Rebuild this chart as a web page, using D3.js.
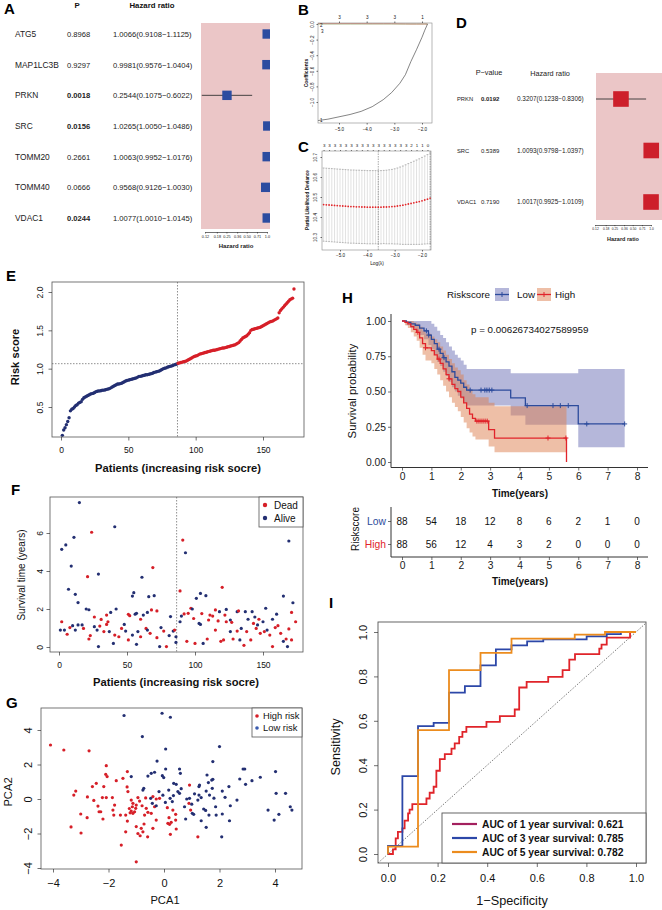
<!DOCTYPE html>
<html><head><meta charset="utf-8">
<script src="https://cdn.jsdelivr.net/npm/d3@7/dist/d3.min.js"></script>
<style>html,body{margin:0;padding:0;background:#fff}svg{display:block}</style>
</head><body>
<svg id="fig" width="662" height="910" xmlns="http://www.w3.org/2000/svg"></svg>
<script>
const FONT = "Arial, 'Liberation Sans', Helvetica, sans-serif";
// ---------------- DATA ----------------
// Panel A (univariate Cox)
const aGenes = ["ATG5","MAP1LC3B","PRKN","SRC","TOMM20","TOMM40","VDAC1"];
const aP = ["0.8968","0.9297","0.0018","0.0156","0.2661","0.0666","0.0244"];
const aHR = [1.0066,0.9981,0.2544,1.0265,1.0063,0.9568,1.0077];
const aLo = [0.9108,0.9576,0.1075,1.0050,0.9952,0.9126,1.0010];
const aHi = [1.1125,1.0404,0.6022,1.0486,1.0176,1.0030,1.0145];
const hrTicks = [0.12,0.18,0.25,0.36,0.50,0.71,1.0];
const hrTickLabels = ["0.12","0.18","0.25","0.36","0.50","0.71","1.0"];
// Panel B (LASSO coefficient paths)
const bLambda = [-5.8,-5.4,-5.0,-4.6,-4.2,-3.8,-3.4,-3.1,-2.8,-2.6,-2.4,-2.2,-2.0,-1.9,-1.8];
const bCoefPRKN = [-1.24,-1.22,-1.19,-1.16,-1.12,-1.06,-0.97,-0.88,-0.76,-0.65,-0.48,-0.33,-0.17,-0.08,0];
const bCoefSRC = [0.004,0.004,0.004,0.004,0.004,0.003,0.003,0.003,0.002,0.001,0,0,0,0,0];
const bCoefVDAC1 = [0.001,0.001,0.001,0.001,0.001,0.001,0.001,0.001,0,0,0,0,0,0,0];
const bTopTicks = [-5,-4,-3,-2];
const bTopLabels = ["3","3","3","1"];
// Panel C (cross-validation)
const cLambda = [-5.6,-5.5,-5.4,-5.3,-5.2,-5.1,-5.0,-4.9,-4.8,-4.7,-4.6,-4.5,-4.4,-4.3,-4.2,-4.1,-4.0,-3.9,-3.8,-3.7,-3.6,-3.5,-3.4,-3.3,-3.2,-3.1,-3.0,-2.9,-2.8,-2.7,-2.6,-2.5,-2.4,-2.3,-2.2,-2.1,-2.0,-1.9,-1.8,-1.7];
const cMean = [10.462,10.461,10.460,10.459,10.458,10.457,10.456,10.455,10.454,10.453,10.452,10.452,10.451,10.451,10.450,10.450,10.449,10.449,10.449,10.449,10.449,10.449,10.450,10.450,10.451,10.452,10.453,10.455,10.457,10.459,10.462,10.465,10.468,10.471,10.474,10.477,10.481,10.485,10.489,10.494];
const cUpper = [10.645,10.644,10.643,10.642,10.641,10.640,10.639,10.638,10.637,10.636,10.635,10.635,10.634,10.634,10.633,10.633,10.632,10.632,10.632,10.632,10.632,10.632,10.633,10.634,10.636,10.638,10.641,10.645,10.650,10.655,10.661,10.667,10.673,10.679,10.685,10.691,10.698,10.705,10.712,10.720];
const cLower = [10.279,10.278,10.277,10.276,10.275,10.274,10.273,10.272,10.271,10.270,10.269,10.269,10.268,10.268,10.267,10.267,10.266,10.266,10.266,10.266,10.266,10.266,10.267,10.266,10.266,10.266,10.265,10.265,10.264,10.263,10.263,10.263,10.263,10.263,10.263,10.263,10.264,10.265,10.266,10.268];
const cTopLambda = [-5.6,-5.4,-5.2,-5.0,-4.8,-4.6,-4.4,-4.2,-4.0,-3.8,-3.6,-3.4,-3.2,-3.0,-2.8,-2.6,-2.4,-2.2,-2.0,-1.8];
const cTopLabels = ["3","3","3","3","3","3","3","3","3","3","3","3","3","3","3","3","2","1","1","0"];
const cVlines = [-3.6,-1.7];
// Panel D (multivariate Cox)
const dGenes = ["PRKN","SRC","VDAC1"];
const dP = ["0.0192","0.5389","0.7190"];
const dHR = [0.3207,1.0093,1.0017];
const dLo = [0.1238,0.9798,0.9925];
const dHi = [0.8306,1.0397,1.0109];
// Panel E (risk score, sorted)
const eRisk = [0.13,0.2,0.23,0.27,0.31,0.36,0.45,0.47,0.48,0.5,
0.52,0.53,0.55,0.56,0.57,0.6,0.62,0.63,0.64,0.65,
0.66,0.67,0.675,0.68,0.69,0.7,0.705,0.71,0.71,0.715,
0.72,0.72,0.725,0.73,0.735,0.74,0.75,0.76,0.77,0.78,
0.79,0.8,0.8,0.805,0.81,0.82,0.83,0.84,0.845,0.85,
0.855,0.86,0.865,0.87,0.875,0.88,0.89,0.9,0.9,0.905,
0.91,0.915,0.92,0.92,0.925,0.93,0.935,0.94,0.95,0.955,
0.96,0.965,0.97,0.98,0.99,1.0,1.005,1.01,1.02,1.025,
1.03,1.035,1.04,1.05,1.055,1.06,
1.07,1.075,1.08,1.085,1.09,1.095,1.1,1.11,1.12,1.13,
1.14,1.15,1.16,1.165,1.17,1.18,1.19,1.195,1.2,1.205,
1.21,1.215,1.22,1.225,1.23,1.235,1.24,1.24,1.245,1.25,
1.255,1.26,1.265,1.27,1.27,1.275,1.28,1.285,1.29,1.295,
1.3,1.305,1.31,1.32,1.33,1.34,1.36,1.38,1.4,1.41,
1.42,1.43,1.45,1.47,1.5,1.51,1.515,1.52,1.525,1.53,
1.535,1.54,1.55,1.56,1.57,1.58,1.59,1.6,1.61,1.615,
1.62,1.63,1.64,1.65,1.66,1.73,1.76,1.78,1.8,1.82,
1.84,1.86,1.88,1.9,1.91,1.92,2.04];
const eNLow = 86;
const eCutoff = 1.065;
const eCutIndex = 86.5;
// Panel F (survival status)
const fPatient = [2,5,7,9,11,12,14,15,20,22,21,24,29,26,31,35,38,41,42,51,52,54,55,56,57,60,61,62,65,66,68,69,70,72,
89,91,90,93,92,95,97,98,99,101,104,105,108,110,111,113,115,118,120,122,123,126,131,132,137,139,142,144,147,152,157,160,165,169,171,172,
1,2,4,6,8,10,12,14,17,18,22,23,26,28,29,30,33,35,36,37,40,41,44,46,48,49,51,54,57,58,60,64,65,67,72,74,75,77,79,81,82,84,85,86,86,
89,94,100,103,104,106,109,115,117,119,121,123,126,127,128,131,133,134,136,138,141,143,145,146,148,150,151,153,155,157,159,161,163,165,167,168,169,171,174];
const fTime = [5.14,5.37,3.04,4.26,5.77,2.77,2.34,7.6,2.0,1.96,3.7,6.04,3.84,1.58,1.45,1.68,1.82,6.33,2.0,1.72,1.65,2.68,2.86,1.73,1.77,1.46,3.67,1.68,1.82,2.65,1.95,4.18,2.7,1.9,
2.95,5.63,1.63,4.96,1.74,1.77,2.04,2.0,1.5,2.56,2.82,1.76,2.7,1.42,1.68,1.63,1.95,1.86,3.14,1.68,1.98,1.42,1.86,1.9,1.86,1.46,1.86,1.58,1.46,2.04,1.46,1.73,2.68,5.58,1.82,2.33,
0.89,1.33,0.89,0.67,1.02,1.12,0.89,1.16,1.16,0.98,0.42,0.6,1.07,0.89,0.02,1.1,0.81,1.19,1.33,0.81,0.19,0.63,0.54,0.98,1.19,0.84,0.37,0.63,0.14,0.81,0.54,0.98,0.89,0.72,0.49,0.02,1.02,0.84,0.02,0.6,1.6,0.84,0.89,0.54,0.24,
1.33,0.3,0.19,1.24,1.19,0.19,0.42,0.89,1.37,0.3,0.37,1.33,0.81,1.3,0.42,0.84,0.37,0.98,0.09,0.81,0.37,1.24,0.98,1.16,0.72,1.33,0.81,0.89,0.63,0.02,1.02,1.12,0.72,0.3,0.42,0.02,0.95,0.37,1.33];
const fStatus = [0,0,0,0,0,0,0,0,0,0,1,1,0,1,1,1,0,0,0,1,1,0,0,0,0,1,0,0,0,0,1,1,0,1,
1,1,0,0,1,1,1,0,1,0,0,1,0,1,1,1,1,0,1,1,0,0,0,1,0,0,0,0,1,0,0,0,0,0,1,0,
0,1,0,1,1,0,0,0,0,1,1,1,0,0,0,1,1,1,1,0,0,1,1,1,0,0,1,0,0,0,1,1,0,1,1,0,0,1,1,0,0,0,1,0,0,
0,1,1,0,0,0,1,1,1,1,1,1,0,1,1,1,0,0,1,1,1,1,1,0,1,0,1,0,1,1,1,1,1,0,1,0,1,1,1];
const fTicks = [0,2,4,6];
// Panel G (PCA)
const gHighX = [-4.09,-3.61,-2.70,-2.08,-2.10,-2.05,-1.32,-1.72,-1.48,-2.44,-2.58,-2.17,-3.18,-3.25,-1.33,-1.30,-2.22,-2.08,-1.86,-2.53,-1.78,-2.38,-2.34,-2.28,-1.84,-3.00,-2.77,-2.20,-1.81,-1.57,-1.38,-3.35,-2.99,-1.38,-1.54,-1.00,
-1.18,-1.12,-1.14,-1.18,-1.06,-1.12,-1.00,-1.02,-0.94,-0.88,-1.22,-1.25,
-0.79,-0.64,-0.58,-0.70,-1.00,-0.82,-0.76,-0.94,-0.86,-0.59,-0.40,-0.28,-0.34,-0.16,-0.46,0.14,0.20,0.26,0.18,0.32,0.42,0.44,0.23,0.90,0.96,0.92,1.22,-0.40,-0.28,0.12,0.42,-1.32,-0.72,-2.76,-0.66];
const gHighY = [3.13,2.84,2.79,1.93,1.43,1.30,1.59,1.06,1.20,0.91,0.72,0.72,0.46,0.23,0.70,0.43,0.08,0.08,0.08,-0.08,-0.35,-0.41,-0.74,-0.74,-0.64,-0.87,-1.08,-1.16,-0.93,-0.93,-0.93,-1.62,-1.97,-1.90,-2.67,-3.64,
-0.06,-0.25,-0.45,-0.70,-0.74,-0.83,-0.35,-0.54,0.08,-0.12,-0.80,-0.55,
-0.39,-0.54,-0.77,-0.93,-1.60,-1.70,-1.90,-2.00,-2.13,-2.19,-1.70,-1.22,-0.45,0.04,-0.83,-1.41,-1.47,-1.35,-1.08,-0.64,-0.89,-1.74,-2.05,-0.25,-0.64,0.81,-2.19,0.14,0.00,-0.50,-1.22,-1.28,-1.45,0.12,0.06];
const gLowX = [-1.44,-0.07,0.23,-0.78,0.06,2.00,-0.25,1.76,0.06,0.56,-1.18,-0.46,-0.34,-0.58,-0.06,-0.01,0.59,1.55,1.76,1.72,2.85,2.91,2.73,3.17,3.47,4.02,2.94,2.34,1.74,1.28,1.26,0.35,0.44,-0.73,-0.76,0.17,-0.18,0.50,0.56,4.04,4.38,2.10,1.52,1.64,1.26,1.34,2.63,-0.48,0.92,1.22,-0.42,-0.28,0.74,1.43,1.50,1.86,2.39,3.75,4.55,4.61,4.14,3.97,0.78,1.02,1.07,1.62,1.88,2.10,1.34,2.36,1.52,2.08,
-0.04,0.22,0.05,0.34,0.62,0.82,1.10,1.80,0.30,1.60,2.20,1.00];
const gLowY = [4.84,4.97,4.74,3.62,2.90,3.04,2.20,2.17,1.74,1.74,1.30,1.49,1.55,1.33,1.35,1.24,1.49,1.39,1.14,1.10,1.74,1.74,1.16,1.06,1.26,1.59,0.85,0.72,0.62,0.81,0.72,0.91,0.85,0.62,0.52,0.52,0.43,0.43,0.33,0.33,0.33,0.46,0.46,0.23,0.23,0.08,-0.06,0.04,0.04,-0.06,-0.25,-0.39,-0.45,-0.58,-0.66,-0.45,-0.39,-0.64,-0.45,-0.64,-0.89,-1.22,-1.16,-0.83,-0.89,-0.93,-0.93,-0.87,-1.26,-1.26,-1.64,-2.19,
0.22,0.04,-0.20,0.20,0.60,0.00,0.30,0.05,-0.15,0.95,0.10,-0.30];
// Panel H (Kaplan-Meier)
const kmLowT = [0,0.15,0.3,0.45,0.6,0.75,0.9,1.0,1.1,1.2,1.3,1.4,1.5,1.6,1.7,1.8,1.9,2.0,2.1,2.2,3.7,4.2,6.0,7.58];
const kmLowS = [1,0.99,0.98,0.97,0.95,0.93,0.9,0.87,0.84,0.8,0.77,0.74,0.71,0.68,0.64,0.6,0.58,0.56,0.53,0.51,0.455,0.40,0.27,0.27];
const kmLowU = [1,1,1,1,1,1,1,0.98,0.96,0.93,0.9,0.88,0.85,0.82,0.79,0.76,0.74,0.72,0.69,0.66,0.63,0.63,0.66,0.66];
const kmLowL = [1,0.97,0.95,0.93,0.9,0.87,0.83,0.8,0.76,0.71,0.68,0.64,0.61,0.57,0.53,0.5,0.47,0.45,0.42,0.40,0.33,0.265,0.105,0.105];
const kmLowCens = [0.83,0.91,1.26,1.43,2.32,2.69,2.82,2.89,2.97,3.06,4.26,5.14,5.39,5.66,6.29,7.58];
const kmHighT = [0,0.1,0.2,0.3,0.4,0.5,0.6,0.7,0.8,1.0,1.1,1.2,1.3,1.4,1.5,1.6,1.7,1.8,1.9,2.0,2.1,2.2,2.3,2.4,2.5,2.95,3.15,5.6];
const kmHighS = [1,0.99,0.98,0.96,0.94,0.92,0.88,0.84,0.81,0.79,0.76,0.73,0.70,0.66,0.62,0.59,0.55,0.52,0.50,0.46,0.42,0.38,0.34,0.31,0.29,0.23,0.17,0];
const kmHighU = [1,1,1,1,0.99,0.98,0.96,0.93,0.91,0.89,0.87,0.85,0.82,0.79,0.76,0.73,0.70,0.67,0.65,0.62,0.58,0.55,0.51,0.48,0.46,0.42,0.395,0.395];
const kmHighL = [1,0.97,0.95,0.92,0.89,0.86,0.81,0.76,0.72,0.70,0.66,0.62,0.58,0.54,0.50,0.46,0.42,0.39,0.36,0.32,0.28,0.24,0.21,0.18,0.16,0.11,0.07,0.07];
const kmHighCens = [0.54,0.8,1.26,1.6,2.55,2.62,2.69,2.76,2.83,2.9,4.97,5.58];
const hTimeTicks = [0,1,2,3,4,5,6,7,8];
const hSurvTicks = [0,0.25,0.5,0.75,1];
const pValueText = "p = 0.00626734027589959";
const riskGroups = ["Low","High"];
const riskLow = [88,54,18,12,8,6,2,1,0];
const riskHigh = [88,56,12,4,3,2,0,0,0];
// Panel I (time-dependent ROC)
const roc1F = [0,0.02,0.02,0.031,0.031,0.04,0.04,0.058,0.058,0.067,0.067,0.081,0.081,0.087,0.087,0.098,0.098,0.155,0.155,0.168,0.168,0.184,0.184,0.195,0.195,0.209,0.209,0.229,0.229,0.256,0.256,0.269,0.269,0.287,0.287,0.3,0.3,0.316,0.316,0.397,0.397,0.451,0.451,0.511,0.511,0.529,0.529,0.559,0.559,0.646,0.646,0.704,0.704,0.731,0.731,0.754,0.754,0.852,0.852,0.861,0.861,0.882,0.882,0.976,0.976,1];
const roc1T = [0,0,0.021,0.021,0.07,0.07,0.1,0.1,0.115,0.115,0.15,0.15,0.183,0.183,0.2,0.2,0.225,0.225,0.25,0.25,0.276,0.276,0.303,0.303,0.375,0.375,0.427,0.427,0.45,0.45,0.475,0.475,0.498,0.498,0.528,0.528,0.55,0.55,0.573,0.573,0.595,0.595,0.621,0.621,0.651,0.651,0.75,0.75,0.775,0.775,0.798,0.798,0.828,0.828,0.876,0.876,0.9,0.9,0.925,0.925,0.943,0.943,0.975,0.975,1,1];
const roc3F = [0,0,0.058,0.058,0.121,0.121,0.184,0.184,0.246,0.246,0.31,0.31,0.373,0.373,0.435,0.435,0.498,0.498,0.561,0.561,0.626,0.626,0.801,0.801,0.882,0.882,0.939,0.939,1];
const roc3T = [0,0.037,0.037,0.351,0.351,0.576,0.576,0.591,0.591,0.727,0.727,0.756,0.756,0.85,0.85,0.922,0.922,0.94,0.94,0.958,0.958,0.967,0.967,0.98,0.98,0.99,0.99,1,1];
const roc5F = [0,0,0.121,0.121,0.246,0.246,0.373,0.373,0.498,0.498,0.753,0.753,0.875,0.875,1];
const roc5T = [0,0.033,0.033,0.558,0.558,0.828,0.828,0.906,0.906,0.97,0.97,0.988,0.988,1,1];
const rocLabels = ["AUC of 1 year survival: 0.621","AUC of 3 year survival: 0.785","AUC of 5 year survival: 0.782"];
const rocTicks = [0,0.2,0.4,0.6,0.8,1.0];

// ---------------- DRAWING ----------------
const NAVY = "#232f72", RED = "#d61f28";
const svg = d3.select("#fig").attr("font-family", FONT);
svg.append("rect").attr("width",662).attr("height",910).attr("fill","#fff");
const defs = svg.append("defs");
function clip(id,x,y,w,h){defs.append("clipPath").attr("id",id).append("rect").attr("x",x).attr("y",y).attr("width",w).attr("height",h);}
function T(g,x,y,s,o){o=o||{};const t=g.append("text").attr("x",x).attr("y",y).text(s)
  .attr("font-size",o.size||8).attr("fill",o.fill||"#111").attr("text-anchor",o.anchor||"start")
  .attr("font-weight",o.weight||"normal");
  if(o.rot!==undefined) t.attr("transform",`rotate(${o.rot},${x},${y})`); return t;}
function styleAxis(g,size,color,keepDomain){g.attr("font-size",size).attr("font-family",FONT);
  g.selectAll("text").attr("fill",color||"#111");
  g.selectAll(".tick line").attr("stroke","#333").attr("stroke-width",0.7);
  if(!keepDomain) g.select(".domain").remove(); else g.select(".domain").attr("stroke","#333").attr("stroke-width",0.7);
  return g;}
function rotY(g,d){g.selectAll(".tick text").attr("x",0).attr("y",-d).attr("dy",null).attr("text-anchor","middle").attr("transform","rotate(-90)");}
function xLab(g,off){g.selectAll(".tick text").attr("y",off).attr("dy",null);}
function label(x,y,s){T(svg,x,y,s,{size:15,weight:"bold",fill:"#000"});}
const fmtHR=(h,l,u)=>`${h.toFixed(4)}(${l.toFixed(4)}\u2212${u.toFixed(4)})`;

// ===== Panel A =====
{
const g = svg.append("g");
label(4,14,"A");
const y = d3.scalePoint().domain(aGenes).range([34,218]);
const x = d3.scaleLog().domain([0.12,1.0]).range([205,267]);
T(g,77,8,"P",{size:7.8,weight:"bold",anchor:"middle"});
T(g,152,8,"Hazard ratio",{size:7.8,weight:"bold",anchor:"middle"});
aGenes.forEach((gn,i)=>{const yy=y(gn)+2.9;
  T(g,15,yy,gn,{size:8.4,fill:"#222"});
  T(g,67,yy,aP[i],{size:7.6,fill:"#222",weight:(+aP[i]<0.05)?"bold":"normal"});
  T(g,113,yy,fmtHR(aHR[i],aLo[i],aHi[i]),{size:7.6,fill:"#222"});
});
g.append("rect").attr("x",201).attr("y",23).attr("width",69).attr("height",206).attr("fill","#ebc6c7");
clip("clipA",201,23,69,206);
const gp = g.append("g").attr("clip-path","url(#clipA)");
gp.selectAll("line").data(aGenes).join("line").attr("x1",(d,i)=>x(aLo[i])).attr("x2",(d,i)=>x(aHi[i]))
  .attr("y1",d=>y(d)).attr("y2",d=>y(d)).attr("stroke","#333").attr("stroke-width",0.9);
gp.selectAll("rect").data(aGenes).join("rect").attr("x",(d,i)=>x(aHR[i])-4.7).attr("y",d=>y(d)-4.7)
  .attr("width",9.4).attr("height",9.4).attr("fill","#2c4ca0");
const ax = g.append("g").attr("transform","translate(0,232)")
  .call(d3.axisBottom(x).tickValues(hrTicks).tickFormat((d,i)=>hrTickLabels[i]).tickSize(1.5).tickSizeOuter(0));
styleAxis(ax,3.8,"#222",true); xLab(ax,6);
T(g,236,248,"Hazard ratio",{size:6,weight:"bold",anchor:"middle",fill:"#222"});
}

// ===== Panel B =====
{
const g = svg.append("g");
label(298,15,"B");
const x = d3.scaleLinear().domain([-5,-2]).range([339,422]);
const y = d3.scaleLinear().domain([-1,0]).range([102,24]);
clip("clipB",318,23,114,100);
const gp = g.append("g").attr("clip-path","url(#clipB)");
const ln = arr => d3.line().x((d,i)=>x(bLambda[i])).y(d=>y(d))(arr);
gp.append("path").attr("d",ln(bCoefVDAC1)).attr("fill","none").attr("stroke","#6cc36c").attr("stroke-width",0.7);
gp.append("path").attr("d",ln(bCoefSRC)).attr("fill","none").attr("stroke","#e06060").attr("stroke-width",0.7);
gp.append("path").attr("d",ln(bCoefPRKN)).attr("fill","none").attr("stroke","#333").attr("stroke-width",0.6);
g.append("rect").attr("x",318).attr("y",23).attr("width",114).attr("height",100).attr("fill","none").attr("stroke","#888").attr("stroke-width",0.6);
T(g,320,26.5,"2",{size:4.5}); T(g,321,33,"3",{size:4.5}); T(g,320,121.5,"1",{size:4.5});
const axb = g.append("g").attr("transform","translate(0,123)").call(d3.axisBottom(x).tickValues(bTopTicks).tickSize(1.5));
styleAxis(axb,4.6); xLab(axb,8);
const axt = g.append("g").attr("transform","translate(0,23)").call(d3.axisTop(x).tickValues(bTopTicks).tickFormat((d,i)=>bTopLabels[i]).tickSize(1.5));
styleAxis(axt,4.6); xLab(axt,-4);
const axl = g.append("g").attr("transform","translate(318,0)").call(d3.axisLeft(y).tickValues([0,-0.2,-0.4,-0.6,-0.8,-1.0]).tickFormat(d3.format(".1f")).tickSize(1.5));
styleAxis(axl,4.6); rotY(axl,4);
T(g,308,73,"Coefficients",{size:5,anchor:"middle",rot:-90,weight:"bold"});
}

// ===== Panel C =====
{
const g = svg.append("g");
label(298,152,"C");
const x = d3.scaleLinear().domain([-5,-2]).range([340,422]);
const y = d3.scaleLinear().domain([10.3,10.7]).range([237,157]);
clip("clipC",322,151,109,99);
const gp = g.append("g").attr("clip-path","url(#clipC)");
gp.selectAll("line.eb").data(cLambda).join("line").attr("x1",d=>x(d)).attr("x2",d=>x(d))
  .attr("y1",(d,i)=>y(cLower[i])).attr("y2",(d,i)=>y(cUpper[i])).attr("stroke","#c4c4c4").attr("stroke-width",0.5);
[cUpper,cLower].forEach(arr=>{
  gp.append("g").selectAll("line").data(cLambda).join("line").attr("x1",d=>x(d)-0.9).attr("x2",d=>x(d)+0.9)
   .attr("y1",(d,i)=>y(arr[i])).attr("y2",(d,i)=>y(arr[i])).attr("stroke","#9a9a9a").attr("stroke-width",0.7);
});
gp.selectAll("line.vl").data(cVlines).join("line").attr("x1",d=>x(d)).attr("x2",d=>x(d)).attr("y1",151).attr("y2",250)
  .attr("stroke","#555").attr("stroke-width",0.5).attr("stroke-dasharray","1.5,1");
gp.selectAll("circle").data(cLambda).join("circle").attr("cx",d=>x(d)).attr("cy",(d,i)=>y(cMean[i])).attr("r",0.9).attr("fill","#e3262a");
g.append("rect").attr("x",322).attr("y",151).attr("width",109).attr("height",99).attr("fill","none").attr("stroke","#888").attr("stroke-width",0.6);
const axb = g.append("g").attr("transform","translate(0,250)").call(d3.axisBottom(x).tickValues([-5,-4,-3,-2]).tickSize(1.5));
styleAxis(axb,4.6); xLab(axb,7);
const axt = g.append("g").attr("transform","translate(0,151)").call(d3.axisTop(x).tickValues(cTopLambda).tickFormat((d,i)=>cTopLabels[i]).tickSize(1));
styleAxis(axt,4.4); xLab(axt,-4.5);
const axl = g.append("g").attr("transform","translate(322,0)").call(d3.axisLeft(y).tickValues([10.3,10.4,10.5,10.6,10.7]).tickFormat(d3.format(".1f")).tickSize(1.5));
styleAxis(axl,4.6); rotY(axl,5);
T(g,309,200,"Partial Likelihood Deviance",{size:4.6,anchor:"middle",rot:-90,weight:"bold"});
T(g,377,265,"Log(\u03bb)",{size:4.8,anchor:"middle"});
}

// ===== Panel D =====
{
const g = svg.append("g");
label(456,28,"D");
const y = d3.scalePoint().domain(dGenes).range([99,202]);
const x = d3.scaleLog().domain([0.12,1.0]).range([595,651]);
T(g,489,75,"P\u2212value",{size:7.3,anchor:"middle",fill:"#222"});
T(g,550,76,"Hazard ratio",{size:7.3,anchor:"middle",fill:"#222"});
dGenes.forEach((gn,i)=>{const yy=y(gn)+2.3;
  T(g,457,yy,gn,{size:5.8,fill:"#222"});
  T(g,481,yy,dP[i],{size:6,fill:"#222",weight:(+dP[i]<0.05)?"bold":"normal"});
  T(g,517,yy,fmtHR(dHR[i],dLo[i],dHi[i]),{size:6.4,fill:"#222"});
});
g.append("rect").attr("x",596).attr("y",73).attr("width",66).attr("height",147).attr("fill","#ebc6c7");
clip("clipD",596,73,66,147);
const gp = g.append("g").attr("clip-path","url(#clipD)");
gp.selectAll("line").data(dGenes).join("line").attr("x1",(d,i)=>x(dLo[i])).attr("x2",(d,i)=>x(dHi[i]))
  .attr("y1",d=>y(d)).attr("y2",d=>y(d)).attr("stroke","#333").attr("stroke-width",0.9);
gp.selectAll("rect").data(dGenes).join("rect").attr("x",(d,i)=>x(dHR[i])-7.8).attr("y",d=>y(d)-7.8)
  .attr("width",15.6).attr("height",15.6).attr("fill","#cd1f2b");
const ax = g.append("g").attr("transform","translate(0,225)")
  .call(d3.axisBottom(x).tickValues(hrTicks).tickFormat((d,i)=>hrTickLabels[i]).tickSize(1.2).tickSizeOuter(0));
styleAxis(ax,3.3,"#222",true); xLab(ax,5);
T(g,623,241,"Hazard ratio",{size:5.5,weight:"bold",anchor:"middle",fill:"#222"});
}

// ===== Panel E =====
{
const g = svg.append("g");
label(6,281,"E");
const x = d3.scaleLinear().domain([0,150]).range([61,263]);
const y = d3.scaleLinear().domain([0.5,2.0]).range([407,292]);
g.append("line").attr("x1",x(eCutIndex)).attr("x2",x(eCutIndex)).attr("y1",282).attr("y2",437).attr("stroke","#444").attr("stroke-width",0.6).attr("stroke-dasharray","1.5,1.5");
g.append("line").attr("x1",52).attr("x2",304).attr("y1",y(eCutoff)).attr("y2",y(eCutoff)).attr("stroke","#444").attr("stroke-width",0.6).attr("stroke-dasharray","1.5,1.5");
g.selectAll("circle").data(eRisk).join("circle").attr("cx",(d,i)=>x(i+1)).attr("cy",d=>y(d)).attr("r",1.7)
  .attr("fill",(d,i)=>i<eNLow?NAVY:RED);
g.append("rect").attr("x",52).attr("y",282).attr("width",252).attr("height",155).attr("fill","none").attr("stroke","#555").attr("stroke-width",0.8);
const axb = g.append("g").attr("transform","translate(0,437)").call(d3.axisBottom(x).tickValues([0,50,100,150]).tickSize(3.5));
styleAxis(axb,8.5); xLab(axb,16);
const axl = g.append("g").attr("transform","translate(52,0)").call(d3.axisLeft(y).tickValues([0.5,1.0,1.5,2.0]).tickFormat(d3.format(".1f")).tickSize(3.5));
styleAxis(axl,8.5); rotY(axl,9);
T(g,178,472,"Patients (increasing risk socre)",{size:11.2,weight:"bold",anchor:"middle"});
T(g,19,357,"Risk score",{size:11.2,weight:"bold",anchor:"middle",rot:-90});
}

// ===== Panel F =====
{
const g = svg.append("g");
label(11,495,"F");
const x = d3.scaleLinear().domain([0,150]).range([59,263]);
const y = d3.scaleLinear().domain([0,6]).range([647,533]);
g.append("line").attr("x1",x(eCutIndex)).attr("x2",x(eCutIndex)).attr("y1",497).attr("y2",652).attr("stroke","#444").attr("stroke-width",0.6).attr("stroke-dasharray","1.5,1.5");
g.selectAll("circle").data(fPatient).join("circle").attr("cx",d=>x(d)).attr("cy",(d,i)=>y(fTime[i])).attr("r",1.6)
  .attr("fill",(d,i)=>fStatus[i]===1?RED:NAVY);
g.append("rect").attr("x",50).attr("y",497).attr("width",253).attr("height",155).attr("fill","none").attr("stroke","#555").attr("stroke-width",0.8);
const axb = g.append("g").attr("transform","translate(0,652)").call(d3.axisBottom(x).tickValues([0,50,100,150]).tickSize(3.5));
styleAxis(axb,8.5); xLab(axb,16);
const axl = g.append("g").attr("transform","translate(50,0)").call(d3.axisLeft(y).tickValues(fTicks).tickFormat(d3.format("d")).tickSize(3.5));
styleAxis(axl,8.5); rotY(axl,7);
T(g,176,686,"Patients (increasing risk socre)",{size:11.2,weight:"bold",anchor:"middle"});
T(g,25,575,"Survival time (years)",{size:10,anchor:"middle",rot:-90});
// legend
g.append("rect").attr("x",259).attr("y",497).attr("width",44).attr("height",30).attr("fill","#fff").attr("stroke","#555").attr("stroke-width",0.8);
[["Dead",RED],["Alive",NAVY]].forEach((it,i)=>{const yy=505+i*13;
  g.append("circle").attr("cx",265).attr("cy",yy).attr("r",2.2).attr("fill",it[1]);
  T(g,274,yy+3.6,it[0],{size:10});});
}

// ===== Panel G =====
{
const g = svg.append("g");
label(6,708,"G");
const x = d3.scaleLinear().domain([-4,4]).range([53,275]);
const y = d3.scaleLinear().domain([-4,4]).range([868,730]);
g.append("g").selectAll("circle").data(gHighX).join("circle").attr("cx",d=>x(d)).attr("cy",(d,i)=>y(gHighY[i])).attr("r",1.6).attr("fill",RED);
g.append("g").selectAll("circle").data(gLowX).join("circle").attr("cx",d=>x(d)).attr("cy",(d,i)=>y(gLowY[i])).attr("r",1.6).attr("fill",NAVY);
g.append("rect").attr("x",41).attr("y",708).attr("width",261).attr("height",161).attr("fill","none").attr("stroke","#555").attr("stroke-width",0.8);
const axb = g.append("g").attr("transform","translate(0,869)").call(d3.axisBottom(x).tickValues([-4,-2,0,2,4]).tickSize(3.5));
styleAxis(axb,11); xLab(axb,18);
const axl = g.append("g").attr("transform","translate(41,0)").call(d3.axisLeft(y).tickValues([-4,-2,0,2,4]).tickSize(3.5));
styleAxis(axl,11); rotY(axl,9);
T(g,165,904,"PCA1",{size:11.2,anchor:"middle"});
T(g,12,792,"PCA2",{size:11.2,anchor:"middle",rot:-90});
g.append("rect").attr("x",252).attr("y",708).attr("width",50).attr("height",29).attr("fill","#fff").attr("stroke","#555").attr("stroke-width",0.8);
[["High risk",RED],["Low risk","#3a5aae"]].forEach((it,i)=>{const yy=716+i*12;
  g.append("circle").attr("cx",257).attr("cy",yy).attr("r",1.8).attr("fill",it[1]);
  T(g,263,yy+3.4,it[0],{size:9.4});});
}

// ===== Panel H =====
{
const g = svg.append("g");
label(342,303,"H");
const x = d3.scaleLinear().domain([0,8]).range([402,637]);
const y = d3.scaleLinear().domain([0,1]).range([462,321]);
const LOWC="#2c4b9c", HIGHC="#e1242b";
const area=(Tt,U,L)=>d3.area().curve(d3.curveStepAfter).x((d,i)=>x(Tt[i])).y0((d,i)=>y(L[i])).y1((d,i)=>y(U[i]))(Tt);
const line=(Tt,S)=>d3.line().curve(d3.curveStepAfter).x((d,i)=>x(Tt[i])).y((d,i)=>y(S[i]))(Tt);
g.append("path").attr("d",area(kmLowT,kmLowU,kmLowL)).attr("fill","#5a5fae").attr("fill-opacity",0.45);
g.append("path").attr("d",area(kmHighT,kmHighU,kmHighL)).attr("fill","#dd8050").attr("fill-opacity",0.5);
g.append("path").attr("d",line(kmLowT,kmLowS)).attr("fill","none").attr("stroke",LOWC).attr("stroke-width",1.3);
g.append("path").attr("d",line(kmHighT,kmHighS)).attr("fill","none").attr("stroke",HIGHC).attr("stroke-width",1.3);
const sAt=(Tt,S,t)=>{let v=S[0];for(let i=0;i<Tt.length;i++){if(Tt[i]<=t)v=S[i];}return v;};
const cross=(cx,cy,col)=>{g.append("path").attr("d",`M${cx-2.5},${cy}H${cx+2.5}M${cx},${cy-2.5}V${cy+2.5}`).attr("stroke",col).attr("stroke-width",1);};
kmLowCens.forEach(t=>cross(x(t),y(sAt(kmLowT,kmLowS,t)),LOWC));
kmHighCens.forEach(t=>cross(x(t),y(sAt(kmHighT,kmHighS,t)),HIGHC));
g.append("line").attr("x1",391).attr("x2",391).attr("y1",314).attr("y2",467.5).attr("stroke","#333").attr("stroke-width",1);
g.append("line").attr("x1",391).attr("x2",648).attr("y1",467.5).attr("y2",467.5).attr("stroke","#333").attr("stroke-width",1);
const axl = g.append("g").attr("transform","translate(391,0)").call(d3.axisLeft(y).tickValues(hSurvTicks).tickFormat(d3.format(".2f")).tickSize(3).tickPadding(2));
styleAxis(axl,10.3,"#1a1a1a");
const axb = g.append("g").attr("transform","translate(0,467.5)").call(d3.axisBottom(x).tickValues(hTimeTicks).tickSize(3));
styleAxis(axb,10.3,"#1a1a1a"); xLab(axb,12.5);
T(g,520,497,"Time(years)",{size:10,weight:"bold",anchor:"middle"});
T(g,356,391,"Survival probability",{size:11.3,anchor:"middle",rot:-90});
T(g,471,333,pValueText,{size:9.8});
// legend
T(g,447,298,"Riskscore",{size:9.8});
const key=(kx,fill,op,col)=>{g.append("rect").attr("x",kx).attr("y",288).attr("width",14).attr("height",13).attr("fill",fill).attr("fill-opacity",op);
  g.append("line").attr("x1",kx).attr("x2",kx+14).attr("y1",294.5).attr("y2",294.5).attr("stroke",col).attr("stroke-width",1.3);
  g.append("path").attr("d",`M${kx+7},${292}V${297}`).attr("stroke",col).attr("stroke-width",1);};
key(495,"#5a5fae",0.45,LOWC); T(g,517,298,"Low",{size:9.8});
key(537,"#dd8050",0.5,HIGHC); T(g,555,298,"High",{size:9.8});
// risk table
const ty = d3.scalePoint().domain(riskGroups).range([521,544]);
g.append("line").attr("x1",391).attr("x2",391).attr("y1",507).attr("y2",557).attr("stroke","#333").attr("stroke-width",1);
g.append("line").attr("x1",391).attr("x2",648).attr("y1",557).attr("y2",557).attr("stroke","#333").attr("stroke-width",1);
const tyl = g.append("g").attr("transform","translate(391,0)").call(d3.axisLeft(ty).tickSize(3).tickPadding(2));
styleAxis(tyl,10.3); tyl.selectAll(".tick text").attr("fill",d=>d==="Low"?LOWC:HIGHC);
const txb = g.append("g").attr("transform","translate(0,557)").call(d3.axisBottom(x).tickValues(hTimeTicks).tickSize(3));
styleAxis(txb,10.3,"#1a1a1a"); xLab(txb,11.5);
[riskLow,riskHigh].forEach((arr,k)=>{arr.forEach((v,i)=>T(g,x(hTimeTicks[i]),ty(riskGroups[k])+3.6,String(v),{size:10,anchor:"middle"}));});
T(g,520,585,"Time(years)",{size:10,weight:"bold",anchor:"middle"});
T(g,359,529,"Riskscore",{size:10,anchor:"middle",rot:-90});
}

// ===== Panel I =====
{
const g = svg.append("g");
label(329,608,"I");
const x = d3.scaleLinear().domain([0,1]).range([388,636]);
const y = d3.scaleLinear().domain([0,1]).range([854,632]);
g.append("line").attr("x1",x(-0.04)).attr("y1",y(-0.04)).attr("x2",x(1.04)).attr("y2",y(1.04)).attr("stroke","#444").attr("stroke-width",0.7).attr("stroke-dasharray","1.5,1.5");
const ln=(F,Tt)=>d3.line().x((d,i)=>x(F[i])).y((d,i)=>y(Tt[i]))(F);
g.append("path").attr("d",ln(roc1F,roc1T)).attr("fill","none").attr("stroke","#e0242a").attr("stroke-width",1.8);
g.append("path").attr("d",ln(roc3F,roc3T)).attr("fill","none").attr("stroke","#2c47a8").attr("stroke-width",1.8);
g.append("path").attr("d",ln(roc5F,roc5T)).attr("fill","none").attr("stroke","#ec8c1e").attr("stroke-width",1.8);
g.append("rect").attr("x",378).attr("y",622).attr("width",268).attr("height",241).attr("fill","none").attr("stroke","#555").attr("stroke-width",0.9);
const axb = g.append("g").attr("transform","translate(0,863)").call(d3.axisBottom(x).tickValues(rocTicks).tickFormat(d3.format(".1f")).tickSize(4));
styleAxis(axb,11); xLab(axb,19);
const axl = g.append("g").attr("transform","translate(378,0)").call(d3.axisLeft(y).tickValues(rocTicks).tickFormat(d3.format(".1f")).tickSize(4));
styleAxis(axl,11); rotY(axl,11);
T(g,512,905,"1\u2212Specificity",{size:12.7,anchor:"middle"});
T(g,340,747,"Sensitivity",{size:12.7,anchor:"middle",rot:-90});
g.append("rect").attr("x",442).attr("y",813).attr("width",204).attr("height",50).attr("fill","#fff").attr("stroke","#555").attr("stroke-width",0.9);
const legCols=["#a3205e","#2c47a8","#ec8c1e"];
rocLabels.forEach((s,i)=>{const yy=824+i*14;
  g.append("line").attr("x1",452).attr("x2",477).attr("y1",yy).attr("y2",yy).attr("stroke",legCols[i]).attr("stroke-width",2.2);
  T(g,482,yy+3.8,s,{size:10.3,weight:"bold"});});
}
</script>
</body></html>
